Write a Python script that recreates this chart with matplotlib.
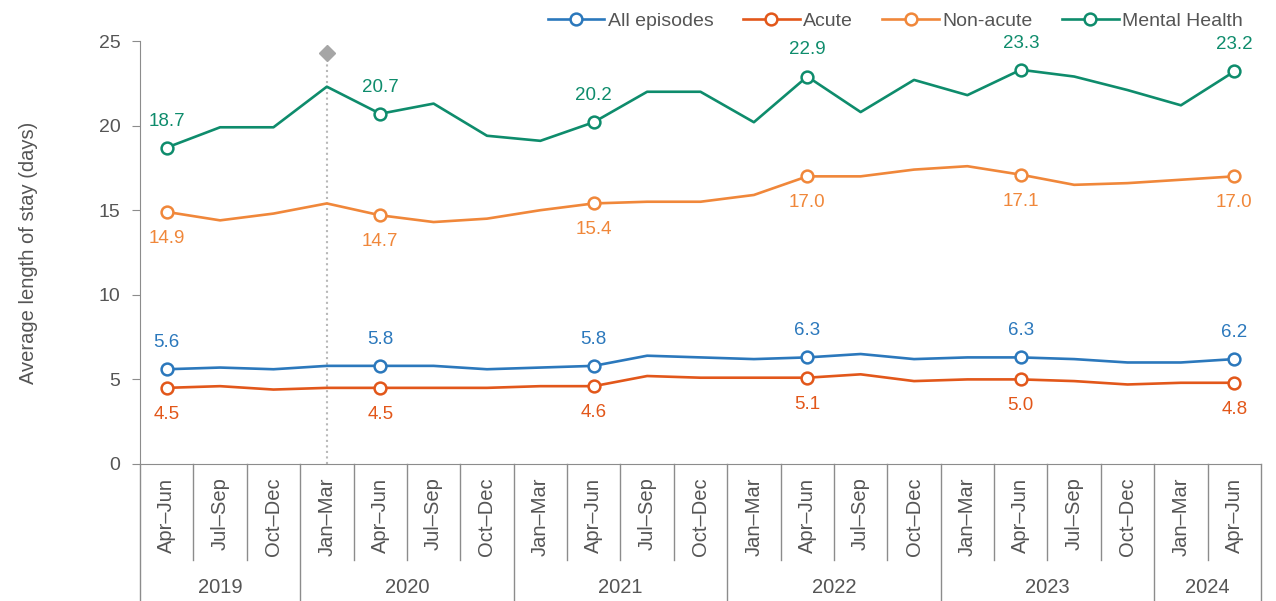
import matplotlib
matplotlib.use("Agg")
import matplotlib.pyplot as plt

plt.rcParams['font.family'] = ['Liberation Sans', 'DejaVu Sans']

# quarters, Apr-Jun 2019 .. Apr-Jun 2024
quarters = ['Apr–Jun', 'Jul–Sep', 'Oct–Dec',
            'Jan–Mar', 'Apr–Jun', 'Jul–Sep', 'Oct–Dec',
            'Jan–Mar', 'Apr–Jun', 'Jul–Sep', 'Oct–Dec',
            'Jan–Mar', 'Apr–Jun', 'Jul–Sep', 'Oct–Dec',
            'Jan–Mar', 'Apr–Jun', 'Jul–Sep', 'Oct–Dec',
            'Jan–Mar', 'Apr–Jun']
years = ['2019', '2020', '2021', '2022', '2023', '2024']
quarters_per_year = [3, 4, 4, 4, 4, 2]

all_episodes = [5.6, 5.7, 5.6, 5.8, 5.8, 5.8, 5.6, 5.7, 5.8, 6.4, 6.3,
                6.2, 6.3, 6.5, 6.2, 6.3, 6.3, 6.2, 6.0, 6.0, 6.2]
acute = [4.5, 4.6, 4.4, 4.5, 4.5, 4.5, 4.5, 4.6, 4.6, 5.2, 5.1,
         5.1, 5.1, 5.3, 4.9, 5.0, 5.0, 4.9, 4.7, 4.8, 4.8]
non_acute = [14.9, 14.4, 14.8, 15.4, 14.7, 14.3, 14.5, 15.0, 15.4, 15.5, 15.5,
             15.9, 17.0, 17.0, 17.4, 17.6, 17.1, 16.5, 16.6, 16.8, 17.0]
mental_health = [18.7, 19.9, 19.9, 22.3, 20.7, 21.3, 19.4, 19.1, 20.2, 22.0, 22.0,
                 20.2, 22.9, 20.8, 22.7, 21.8, 23.3, 22.9, 22.1, 21.2, 23.2]

# Apr-Jun points get a marker and a value label
labelled = [0, 4, 8, 12, 16, 20]
event_idx = 3       # Jan-Mar 2020
event_value = 24.3

series = [
    ('All episodes', all_episodes, '#2b78bc', 'above'),
    ('Acute', acute, '#e2571a', 'below'),
    ('Non-acute', non_acute, '#f0873a', 'below'),
    ('Mental Health', mental_health, '#0e8c6c', 'above'),
]

grey = '#8c8c8c'
text_col = '#555555'

fig = plt.figure(figsize=(12.76, 6.01), dpi=100)
ax = fig.add_axes([140 / 1276, 1 - 464 / 601, 1121 / 1276, 423 / 601])

x = list(range(len(quarters)))
for name, vals, col, pos in series:
    ax.plot(x, vals, color=col, lw=1.9, marker='o', markevery=labelled,
            ms=8.5, mfc='white', mec=col, mew=1.8, label=name, zorder=3)
    for i in labelled:
        off = 13 if pos == 'above' else -13
        ax.annotate(f'{vals[i]:.1f}', (i, vals[i]), xytext=(0, off),
                    textcoords='offset points', ha='center',
                    va='bottom' if pos == 'above' else 'top',
                    fontsize=13.5, color=col)

# event marker
ax.plot([event_idx, event_idx], [0, event_value], ls=':', color='#b8b8b8', lw=1.5, zorder=1)
ax.plot(event_idx, event_value, marker='D', color='#a6a6a6', ms=8, zorder=2)

ax.set_xlim(-0.5, len(quarters) - 0.5)
ax.set_ylim(0, 25)
ax.set_yticks([0, 5, 10, 15, 20, 25])
ax.tick_params(axis='y', length=6, color=grey, labelsize=14, labelcolor=text_col, pad=8)
ax.set_xticks([])
for s in ['top', 'right']:
    ax.spines[s].set_visible(False)
ax.spines['left'].set_color(grey)
ax.spines['bottom'].set_color(grey)
ax.set_ylabel('Average length of stay (days)', fontsize=14.5, color=text_col, labelpad=44)

# two level category axis
tr = ax.get_xaxis_transform()
for i, q in enumerate(quarters):
    ax.text(i, -0.032, q, transform=tr, rotation=90, ha='center', va='top',
            fontsize=14.5, color=text_col)
bounds = [-0.5]
for n in quarters_per_year:
    bounds.append(bounds[-1] + n)
year_bounds = set(bounds)
for b in [i - 0.5 for i in range(len(quarters) + 1)]:
    low = -0.33 if b in year_bounds else -0.227
    ax.plot([b, b], [0, low], transform=tr, color=grey, lw=1, clip_on=False)
for k, yr in enumerate(years):
    ax.text((bounds[k] + bounds[k + 1]) / 2, -0.291, yr, transform=tr,
            ha='center', va='center', fontsize=14.5, color=text_col)

leg = fig.legend(loc='upper right', bbox_to_anchor=(0.988, 1.008), ncol=4,
                 frameon=False, fontsize=14, handlelength=2.9, columnspacing=1.5,
                 handletextpad=0.2)
for t in leg.get_texts():
    t.set_color(text_col)

fig.savefig('out.png', dpi=100)
